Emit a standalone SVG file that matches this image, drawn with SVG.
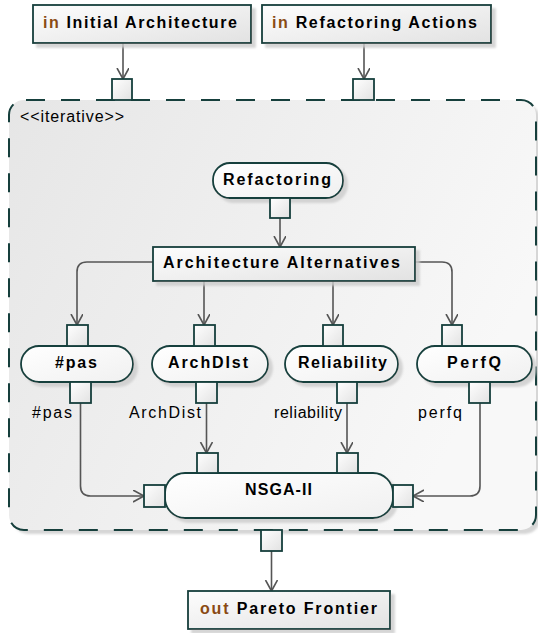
<svg xmlns="http://www.w3.org/2000/svg" width="538" height="633" viewBox="0 0 538 633">
<style>
.st{stroke:#163f3c;stroke-width:1.8}
.box{fill:url(#gBox)}
.node{fill:url(#gNode)}
.pin{fill:url(#gPin);stroke:#163f3c;stroke-width:1.8}
.c{fill:none;stroke:#555555;stroke-width:1.6}
.ca{fill:none;stroke:#555555;stroke-width:1.6;marker-end:url(#arr)}
.t{font-family:"Liberation Sans",Arial,sans-serif;font-size:16px;font-weight:bold;fill:#000}
.l{font-family:"Liberation Sans",Arial,sans-serif;font-size:16px;fill:#000}
.kw{fill:#8a4a12}
</style>
<defs>
<linearGradient id="gBox" x1="0" y1="0" x2="1" y2="1"><stop offset="0" stop-color="#fdfdfd"/><stop offset="1" stop-color="#e2e2e2"/></linearGradient>
<linearGradient id="gNode" x1="0" y1="0" x2="1" y2="1"><stop offset="0" stop-color="#ffffff"/><stop offset="1" stop-color="#f0f0f0"/></linearGradient>
<linearGradient id="gPin" x1="0" y1="0" x2="1" y2="1"><stop offset="0" stop-color="#ffffff"/><stop offset="1" stop-color="#e2e2e2"/></linearGradient>
<linearGradient id="gReg" x1="0" y1="0" x2="1" y2="0.4"><stop offset="0" stop-color="#e6e6e6"/><stop offset="1" stop-color="#f8f8f8"/></linearGradient>
<filter id="sh" x="-5%" y="-5%" width="115%" height="130%">
<feOffset in="SourceAlpha" dx="4" dy="4" result="o"/>
<feGaussianBlur in="o" stdDeviation="1" result="b"/>
<feColorMatrix in="b" type="matrix" values="0 0 0 0 0.6  0 0 0 0 0.6  0 0 0 0 0.6  0 0 0 0.8 0" result="s"/>
<feMerge><feMergeNode in="s"/><feMergeNode in="SourceGraphic"/></feMerge>
</filter>
<marker id="arr" markerUnits="userSpaceOnUse" markerWidth="14" markerHeight="14" refX="11" refY="6" orient="auto">
<path d="M0,0 L11,6 L0,12" fill="none" stroke="#555555" stroke-width="1.6"/>
</marker>
</defs>

<g id="region">
<rect x="9" y="100" width="527" height="430" rx="15" fill="url(#gReg)" filter="url(#sh)"/>
<rect x="9" y="100" width="527" height="430" rx="15" fill="none" stroke="#163f3c" stroke-width="2" stroke-dasharray="19 16" stroke-dashoffset="-2"/>
<text class="l" x="20" y="122" textLength="104" lengthAdjust="spacing">&lt;&lt;iterative&gt;&gt;</text>
</g>

<g id="connectors">
<path class="ca" d="M123,43 V79"/>
<path class="ca" d="M364,43 V79"/>
<path class="ca" d="M280,218 V247"/>
<path class="ca" d="M153,262 H87 Q77,262 77,272 V325"/>
<path class="ca" d="M204,281 V325"/>
<path class="ca" d="M333,281 V325"/>
<path class="ca" d="M415,262 H442 Q452,262 452,272 V325"/>
<path class="ca" d="M80.5,403 V486 Q80.5,496 90.5,496 H144"/>
<path class="ca" d="M206.5,403 V453"/>
<path class="ca" d="M347,403 V453"/>
<path class="ca" d="M480,403 V486 Q480,496 470,496 H413"/>
<path class="ca" d="M271.5,551 V591"/>
</g>

<g id="in-initial-architecture">
<rect class="box st" x="33" y="5" width="218" height="38" filter="url(#sh)"/>
<text class="t" x="43" y="28" textLength="194" lengthAdjust="spacing"><tspan class="kw">in</tspan> Initial Architecture</text>
<rect class="pin" x="112" y="79" width="20" height="21"/>
</g>

<g id="in-refactoring-actions">
<rect class="box st" x="262" y="5" width="229" height="38" filter="url(#sh)"/>
<text class="t" x="272" y="28" textLength="205" lengthAdjust="spacing"><tspan class="kw">in</tspan> Refactoring Actions</text>
<rect class="pin" x="353" y="79" width="21" height="21"/>
</g>

<g id="refactoring">
<rect class="node st" x="213" y="163" width="130" height="35" rx="17" filter="url(#sh)"/>
<text class="t" x="223" y="185" textLength="108" lengthAdjust="spacing">Refactoring</text>
<rect class="pin" x="270" y="198" width="20" height="20"/>
</g>

<g id="architecture-alternatives">
<rect class="box st" x="153" y="247" width="262" height="34" filter="url(#sh)"/>
<text class="t" x="163" y="268" textLength="237" lengthAdjust="spacing">Architecture Alternatives</text>
</g>

<g id="pas">
<rect class="node st" x="21" y="346" width="112" height="36" rx="18" filter="url(#sh)"/>
<text class="t" x="55" y="368" textLength="42" lengthAdjust="spacing">#pas</text>
<rect class="pin" x="67" y="325" width="21" height="21"/>
<rect class="pin" x="70" y="382" width="21" height="21"/>
<text class="l" x="32" y="418" textLength="40" lengthAdjust="spacing">#pas</text>
</g>

<g id="archdist">
<rect class="node st" x="152" y="346" width="116" height="36" rx="18" filter="url(#sh)"/>
<text class="t" x="168" y="368" textLength="80" lengthAdjust="spacing">ArchDIst</text>
<rect class="pin" x="194" y="325" width="21" height="21"/>
<rect class="pin" x="196" y="382" width="21" height="21"/>
<text class="l" x="129" y="418" textLength="72" lengthAdjust="spacing">ArchDist</text>
</g>

<g id="reliability">
<rect class="node st" x="285" y="346" width="113" height="36" rx="18" filter="url(#sh)"/>
<text class="t" x="298" y="368" textLength="89" lengthAdjust="spacing">Reliability</text>
<rect class="pin" x="323" y="325" width="20" height="21"/>
<rect class="pin" x="337" y="382" width="20" height="21"/>
<text class="l" x="274" y="418" textLength="68" lengthAdjust="spacing">reliability</text>
</g>

<g id="perfq">
<rect class="node st" x="417" y="346" width="115" height="36" rx="18" filter="url(#sh)"/>
<text class="t" x="447" y="368" textLength="54" lengthAdjust="spacing">PerfQ</text>
<rect class="pin" x="442" y="325" width="20" height="21"/>
<rect class="pin" x="469" y="382" width="21" height="21"/>
<text class="l" x="418" y="418" textLength="44" lengthAdjust="spacing">perfq</text>
</g>

<g id="nsga-ii">
<rect class="node st" x="165" y="473" width="228" height="45" rx="20" filter="url(#sh)"/>
<text class="t" x="245" y="495" textLength="67" lengthAdjust="spacing">NSGA-II</text>
<rect class="pin" x="197" y="453" width="21" height="20"/>
<rect class="pin" x="337" y="453" width="21" height="20"/>
<rect class="pin" x="144" y="485" width="21" height="22"/>
<rect class="pin" x="393" y="485" width="20" height="22"/>
</g>

<g id="out-pareto-frontier">
<rect class="pin" x="261" y="530" width="21" height="21"/>
<rect class="box st" x="188" y="591" width="202" height="38" filter="url(#sh)"/>
<text class="t" x="200" y="614" textLength="177" lengthAdjust="spacing"><tspan class="kw">out</tspan> Pareto Frontier</text>
</g>
</svg>
